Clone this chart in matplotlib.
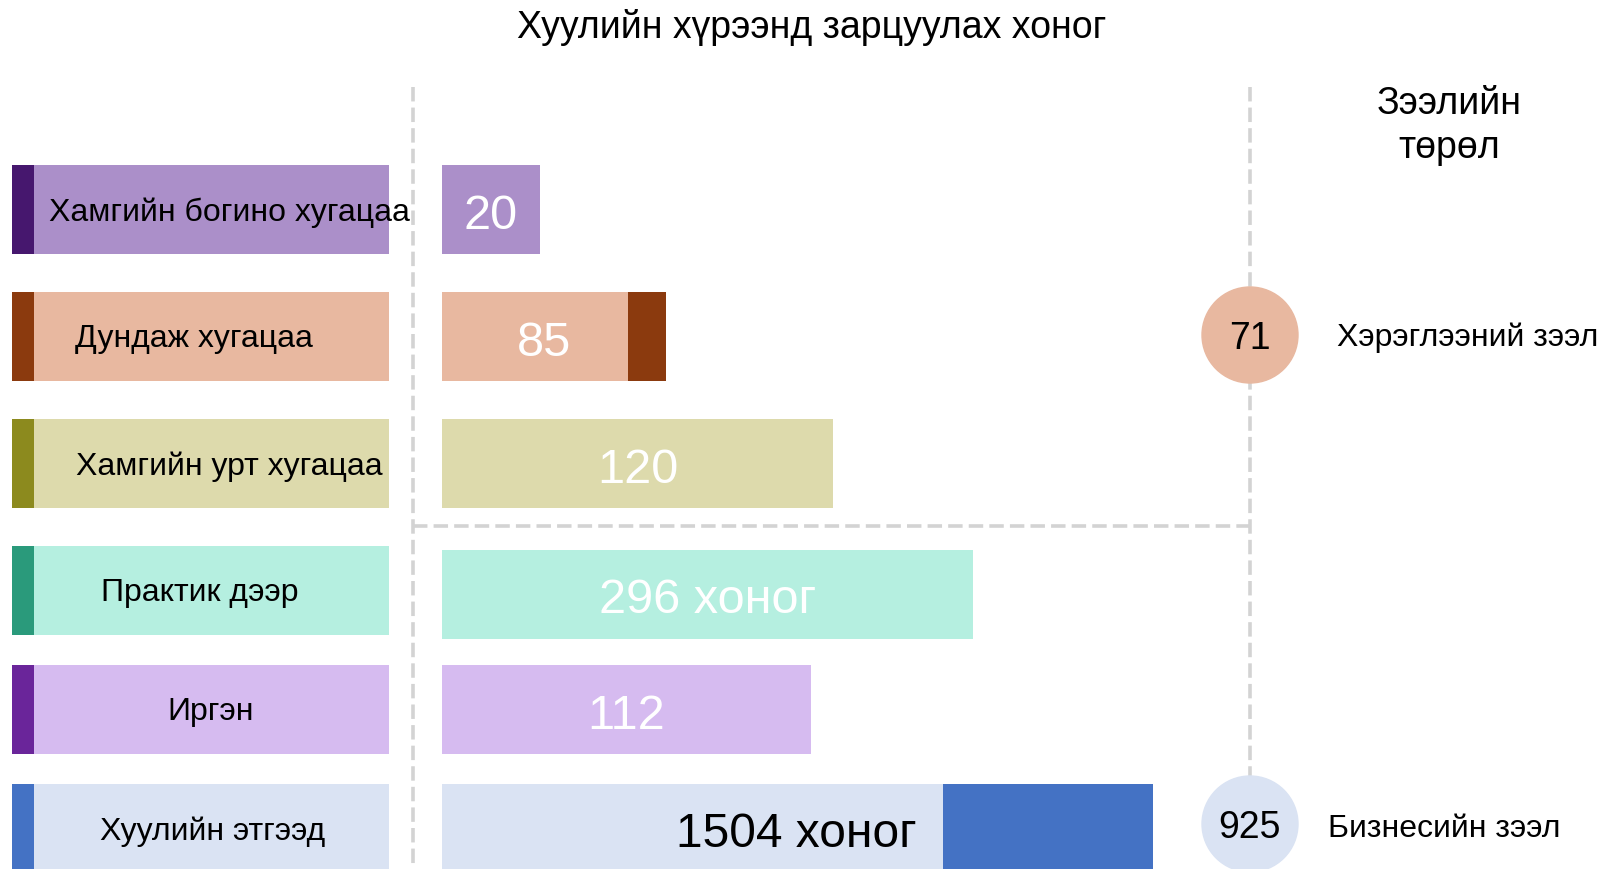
import matplotlib.pyplot as plt
from matplotlib.patches import Circle

plt.rcParams['font.family'] = ['Liberation Sans', 'DejaVu Sans']

# categories and their values (days)
categories = ['Хамгийн богино хугацаа', 'Дундаж хугацаа', 'Хамгийн урт хугацаа',
              'Практик дээр', 'Иргэн', 'Хуулийн этгээд']
value_labels = ['20', '85', '120', '296 хоног', '112', '1504 хоног']
# bar lengths as drawn in the picture (not to scale with the values)
bar_len = [98, 186, 391, 531, 369, 501]
extra_len = [0, 38, 0, 0, 0, 210]

loan_types = ['Хэрэглээний зээл', 'Бизнесийн зээл']
loan_days = ['71', '925']

light = ['#AB8FC9', '#E8B8A0', '#DDDAAC', '#B5EFE0', '#D6BBF0', '#DAE3F3']
dark = ['#46176E', '#8B3A0E', '#8C8A1E', '#2A9A7B', '#6A259A', '#4472C4']
circle_col = ['#E8B8A0', '#DAE3F3']

# layout (pixel units, y pointing down)
row_y = [210.5, 337.5, 464.5, 591.5, 710.5, 829.5]
val_y = [210.5, 337.5, 464.5, 595, 710.5, 829.5]
label_x = [229, 194, 229, 200, 211, 213]
circle_y = [336, 825]

fig = plt.figure(figsize=(16.02, 8.7), dpi=100)
ax = fig.add_axes([0, 0, 1, 1])
ax.set_xlim(0, 1602)
ax.set_ylim(870, 0)
ax.axis('off')

dash = dict(color='#D3D3D3', lw=2.6, linestyle=(0, (4, 1.7)), zorder=1)
ax.plot([413, 413], [88, 870], **dash)
ax.plot([1250, 1250], [88, 790], **dash)
ax.plot([413, 1250], [527, 527], **dash)

# left label boxes
ax.barh(row_y, 355, left=34, height=89, color=light, zorder=2)
ax.barh(row_y, 22, left=12, height=89, color=dark, zorder=2)
for i, name in enumerate(categories):
    ax.text(label_x[i], row_y[i] + 2, name, ha='center', va='center', fontsize=23, zorder=3)

# value bars
ax.barh(val_y, bar_len, left=442, height=89, color=light, zorder=2)
ax.barh(val_y, extra_len, left=[442 + b for b in bar_len], height=89, color=dark, zorder=2)
for i, lab in enumerate(value_labels):
    if i == 5:
        ax.text(442 + bar_len[i] - 26, val_y[i] + 5, lab, ha='right', va='center',
                fontsize=34.5, color='black', zorder=3)
    else:
        shift = 9 if i == 1 else 0
        ax.text(442 + bar_len[i] / 2 + shift, val_y[i] + 6, lab, ha='center', va='center',
                fontsize=35, color='white', zorder=3)

# loan type circles
for i in range(2):
    ax.add_patch(Circle((1250, circle_y[i]), 48, color=circle_col[i], zorder=4))
    ax.text(1250, circle_y[i] + 3, loan_days[i], ha='center', va='center', fontsize=27, zorder=5)
ax.text(1337, 338, loan_types[0], ha='left', va='center', fontsize=23)
ax.text(1328, 829, loan_types[1], ha='left', va='center', fontsize=23)

ax.text(1449, 126, 'Зээлийн\nтөрөл', ha='center', va='center', fontsize=27, linespacing=1.25)
ax.text(812, 28, 'Хуулийн хүрээнд зарцуулах хоног', ha='center', va='center', fontsize=27)

fig.savefig('out.png', dpi=100)
